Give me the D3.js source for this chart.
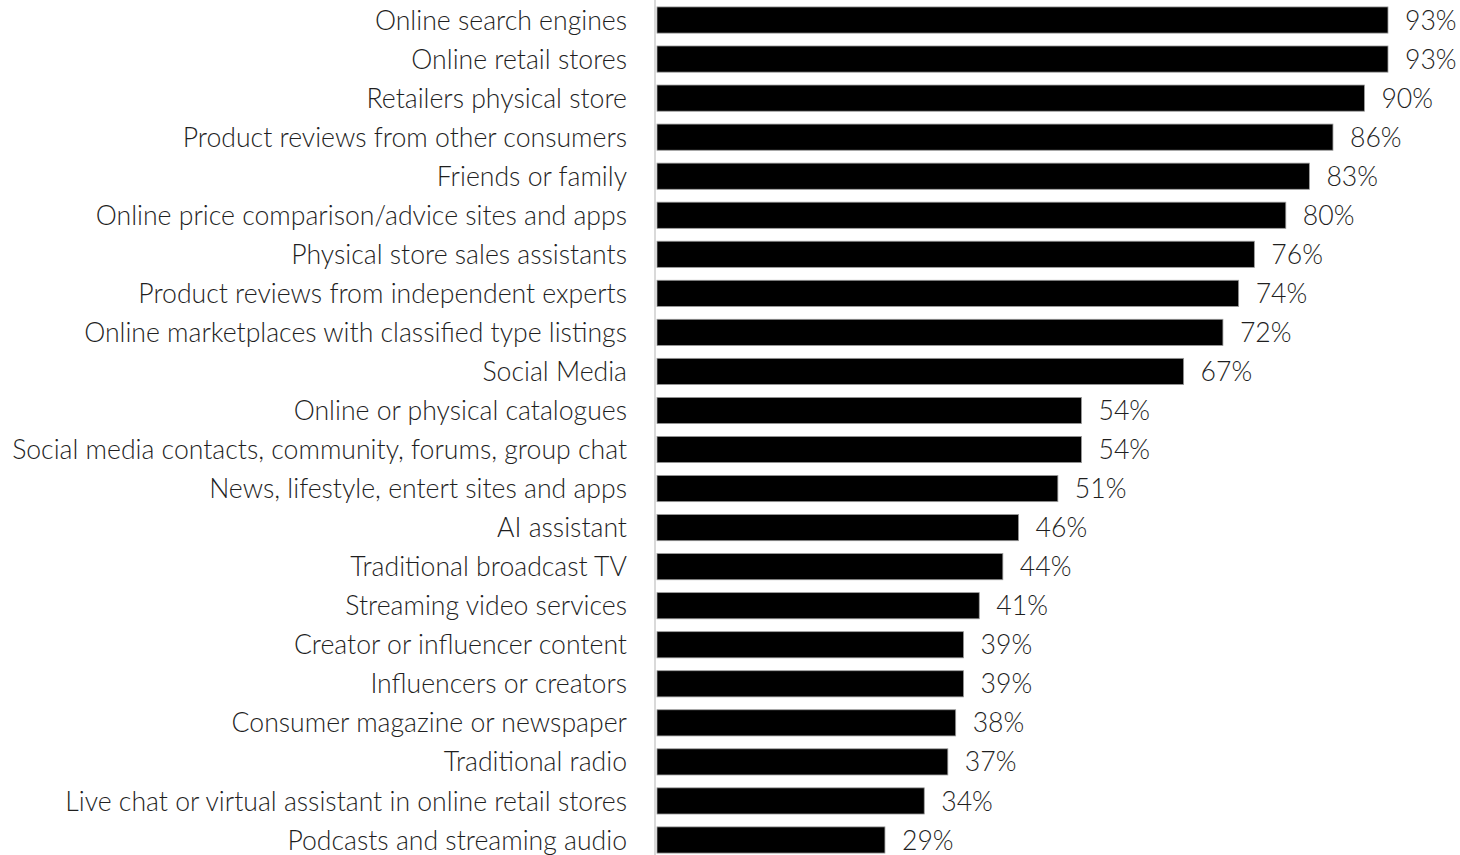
<!DOCTYPE html>
<html>
<head>
<meta charset="utf-8">
<script src="https://cdn.jsdelivr.net/npm/d3@7"></script>
<style>
  html, body { margin: 0; padding: 0; background: #fff; }
  svg { display: block; }
  text { font-family: Lato, "Open Sans", sans-serif; font-weight: 300; fill: #1f1f1f; }
</style>
</head>
<body>
<svg id="chart" width="1460" height="855"></svg>
<script>
// Sources consulted when shopping, share of respondents (%)
const categories = [
  "Online search engines",
  "Online retail stores",
  "Retailers physical store",
  "Product reviews from other consumers",
  "Friends or family",
  "Online price comparison/advice sites and apps",
  "Physical store sales assistants",
  "Product reviews from independent experts",
  "Online marketplaces with classified type listings",
  "Social Media",
  "Online or physical catalogues",
  "Social media contacts, community, forums, group chat",
  "News, lifestyle, entert sites and apps",
  "AI assistant",
  "Traditional broadcast TV",
  "Streaming video services",
  "Creator or influencer content",
  "Influencers or creators",
  "Consumer magazine or newspaper",
  "Traditional radio",
  "Live chat or virtual assistant in online retail stores",
  "Podcasts and streaming audio"
];
const values = [93, 93, 90, 86, 83, 80, 76, 74, 72, 67, 54, 54, 51, 46, 44, 41, 39, 39, 38, 37, 34, 29];

const W = 1460, H = 855;
const svg = d3.select("#chart");

const x = d3.scaleLinear().domain([0, 100]).range([657, 1443]);
const y = d3.scaleBand()
  .domain(categories)
  .range([0.5, 859.5])
  .paddingInner(0.33)
  .paddingOuter(0.165);

// size the type so the widest category label spans the left margin
const labelRight = 627, labelLeft = 12;
const probe = svg.append("text").attr("font-size", 20);
const widest = d3.max(categories, c => probe.text(c).node().getComputedTextLength());
probe.remove();
const fontSize = Math.min(28, 20 * (labelRight - labelLeft) / widest);

// bars
svg.append("g").selectAll("rect")
  .data(values)
  .join("rect")
  .attr("x", x(0))
  .attr("y", (d, i) => y(categories[i]))
  .attr("width", d => x(d) - x(0))
  .attr("height", y.bandwidth())
  .attr("fill", "#000")
  .attr("stroke", "#9a9a9a")
  .attr("stroke-width", 0.8);

// vertical baseline
svg.append("line")
  .attr("x1", 655).attr("x2", 655)
  .attr("y1", 0).attr("y2", H)
  .attr("stroke", "#d9d9d9")
  .attr("stroke-width", 2);

// category labels
svg.append("g").selectAll("text")
  .data(categories)
  .join("text")
  .attr("x", labelRight)
  .attr("y", d => y(d) + y.bandwidth() / 2)
  .attr("dy", "0.36em")
  .attr("text-anchor", "end")
  .attr("font-size", fontSize)
  .text(d => d);

// value labels
svg.append("g").selectAll("text")
  .data(values)
  .join("text")
  .attr("x", d => x(d) + 17)
  .attr("y", (d, i) => y(categories[i]) + y.bandwidth() / 2)
  .attr("dy", "0.36em")
  .attr("font-size", fontSize)
  .text(d => d + "%");
</script>
</body>
</html>
